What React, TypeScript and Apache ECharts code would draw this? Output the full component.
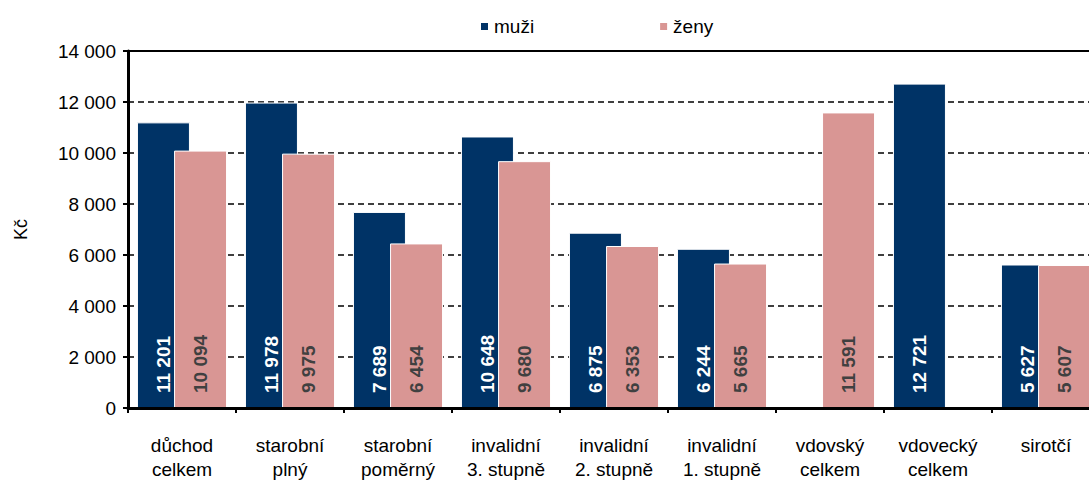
import React, { useEffect, useRef } from "react";
import * as echarts from "echarts";

const categories = [
  "důchod\ncelkem",
  "starobní\nplný",
  "starobní\npoměrný",
  "invalidní\n3. stupně",
  "invalidní\n2. stupně",
  "invalidní\n1. stupně",
  "vdovský\ncelkem",
  "vdovecký\ncelkem",
  "sirotčí",
];
const muzi: (number | null)[] = [11201, 11978, 7689, 10648, 6875, 6244, null, 12721, 5627];
const zeny: (number | null)[] = [10094, 9975, 6454, 9680, 6353, 5665, 11591, null, 5607];
const yTicks = { min: 0, max: 14000, interval: 2000 };

const fmt = (v: number) => {
  const s = String(Math.round(v));
  return s.replace(/\B(?=(\d{3})+(?!\d))/g, "\u00a0");
};

const FONT = "Liberation Sans";

export default function App() {
  const ref = useRef<HTMLDivElement>(null);
  useEffect(() => {
    if (!ref.current) return;
    const chart = echarts.init(ref.current, undefined, { renderer: "svg" });
    const labelBase = {
      show: true,
      position: "insideBottom" as const,
      rotate: 90,
      align: "left" as const,
      verticalAlign: "middle" as const,
      distance: 15,
      fontFamily: FONT,
      fontSize: 19,
      fontWeight: "bold" as const,
      formatter: (p: any) => fmt(p.value),
    };
    chart.setOption({
      animation: false,
      textStyle: { fontFamily: FONT },
      legend: {
        top: 12,
        left: 474,
        itemWidth: 9,
        itemHeight: 9,
        itemGap: 124,
        icon: "rect",
        textStyle: { fontFamily: FONT, fontSize: 19, color: "#000" },
        data: ["muži", "ženy"],
      },
      grid: { left: 128, top: 51, width: 972, height: 360, containLabel: false },
      xAxis: [
        {
          type: "category",
          data: categories,
          z: 10,
          axisLine: { lineStyle: { color: "#000", width: 3 } },
          axisTick: { show: true, length: 5, lineStyle: { color: "#000", width: 2 } },
          axisLabel: {
            fontFamily: FONT,
            fontSize: 19,
            color: "#000",
            margin: 25,
            lineHeight: 24,
            interval: 0,
          },
        },
        {
          type: "category",
          position: "top",
          data: categories,
          axisLine: { lineStyle: { color: "#000", width: 2 } },
          axisTick: { show: false },
          axisLabel: { show: false },
        },
      ],
      yAxis: {
        type: "value",
        min: yTicks.min,
        max: yTicks.max,
        interval: yTicks.interval,
        name: "Kč",
        nameLocation: "middle",
        nameGap: 98,
        nameRotate: 90,
        nameTextStyle: { fontFamily: FONT, fontSize: 18, color: "#000" },
        axisLine: { show: true, lineStyle: { color: "#000", width: 3 } },
        axisTick: { show: true, length: 5, lineStyle: { color: "#000", width: 2 } },
        axisLabel: {
          fontFamily: FONT,
          fontSize: 19,
          color: "#000",
          margin: 12,
          formatter: (v: number) => fmt(v),
        },
        splitLine: {
          show: true,
          lineStyle: { color: "#000", type: [6, 4], width: 1.5 },
        },
      },
      series: [
        {
          name: "muži",
          type: "bar",
          data: muzi.map((v) => (v == null ? "-" : v)),
          barWidth: 53,
          barGap: "-30%",
          itemStyle: { color: "#003366", borderColor: "#fff", borderWidth: 1 },
          label: { ...labelBase, color: "#fff" },
        },
        {
          name: "ženy",
          type: "bar",
          data: zeny.map((v) => (v == null ? "-" : v)),
          barWidth: 53,
          barGap: "-30%",
          itemStyle: { color: "#D99694", borderColor: "#fff", borderWidth: 1 },
          label: { ...labelBase, color: "#404040" },
        },
      ],
    });
    return () => chart.dispose();
  }, []);
  return (
    <div
      style={{
        position: "fixed",
        left: 0,
        top: 0,
        width: 1089,
        height: 481,
        overflow: "hidden",
        background: "#fff",
      }}
    >
      <div ref={ref} style={{ width: 1100, height: 481 }} />
    </div>
  );
}
